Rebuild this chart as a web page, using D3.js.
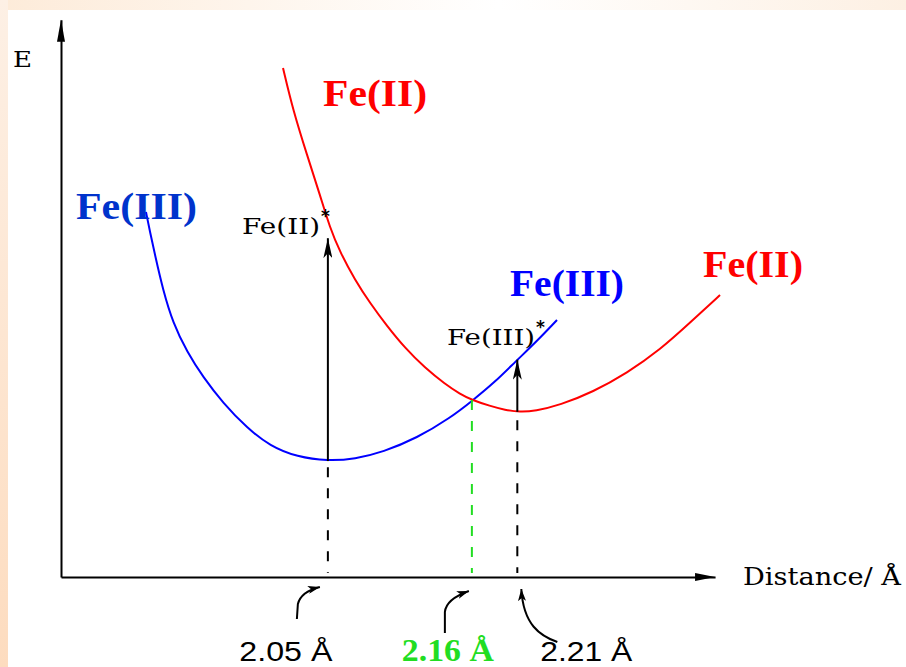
<!DOCTYPE html>
<html>
<head>
<meta charset="utf-8">
<script src="https://cdn.jsdelivr.net/npm/d3@7"></script>
<style>
  body { margin: 0; background: #fff; }
  svg { display: block; }
</style>
</head>
<body>
<div id="chart"></div>
<script>
// schematic potential energy curves, arbitrary units (distance 0-100, energy 0-100)
const fe3Dist = [13.28, 13.91, 14.69, 15.94, 17.5, 19.69, 22.19, 25.31, 29.06, 32.66, 36.88, 41.72, 45.94, 50.31, 55.63, 60.78, 64.22, 67.81, 70.94, 74.38, 77.5];
const fe3Energy = [65.18, 61.61, 57.5, 51.25, 45.36, 40.18, 35.71, 31.07, 26.61, 23.39, 21.43, 20.71, 21.07, 22.32, 24.82, 28.39, 31.43, 34.82, 38.39, 42.14, 45.89];

const fe2Dist = [34.69, 36.25, 38.44, 40.47, 42.03, 43.59, 45.94, 48.28, 50.94, 53.75, 56.88, 60.0, 62.34, 64.22, 67.03, 69.38, 71.72, 74.06, 77.97, 83.13, 88.44, 93.59, 98.75, 102.97];
const fe2Energy = [90.89, 83.39, 75.36, 68.21, 62.32, 58.04, 53.04, 48.93, 44.82, 40.89, 37.32, 34.46, 32.68, 31.61, 30.54, 29.82, 29.46, 29.64, 30.71, 33.04, 36.43, 40.54, 45.89, 50.36];

// bond lengths marked on the distance axis
const bondLabels = ["2.05 Å", "2.16 Å", "2.21 Å"];
const bondPos = [41.7, 64.2, 71.3];

// vertical (Franck-Condon) transitions: from -> to energy
const transDist = [41.7, 71.3];
const transFrom = [20.7, 29.5];
const transTo = [60.5, 38.8];

const width = 906, height = 667;

const svg = d3.select("#chart").append("svg")
    .attr("width", width)
    .attr("height", height);

// peach frame
const defs = svg.append("defs");
const gTop = defs.append("linearGradient").attr("id", "gTop");
gTop.append("stop").attr("offset", "0%").attr("stop-color", "#fdebd9");
gTop.append("stop").attr("offset", "55%").attr("stop-color", "#ffffff");
gTop.append("stop").attr("offset", "100%").attr("stop-color", "#fdf0e3");
const gLeft = defs.append("linearGradient").attr("id", "gLeft")
    .attr("x1", 0).attr("y1", 0).attr("x2", 0).attr("y2", 1);
gLeft.append("stop").attr("offset", "0%").attr("stop-color", "#fdf0e5");
gLeft.append("stop").attr("offset", "100%").attr("stop-color", "#fddcbf");

svg.append("rect").attr("width", width).attr("height", 10).attr("fill", "url(#gTop)");
svg.append("rect").attr("y", 0).attr("width", 8).attr("height", height).attr("fill", "url(#gLeft)");

const marker = (id, len, w) => defs.append("marker")
    .attr("id", id)
    .attr("viewBox", `0 0 ${len} ${w}`)
    .attr("refX", len).attr("refY", w / 2)
    .attr("markerWidth", len).attr("markerHeight", w)
    .attr("markerUnits", "userSpaceOnUse")
    .attr("orient", "auto")
    .append("path")
    .attr("d", `M0,0 L${len},${w / 2} L0,${w} L${len * 0.25},${w / 2} Z`)
    .attr("fill", "#000");
marker("bigHead", 20, 9);
marker("smallHead", 12, 8);

const x = d3.scaleLinear().domain([0, 100]).range([61, 701]);
const y = d3.scaleLinear().domain([0, 100]).range([577, 17]);

// axes (no ticks), with arrows
const xAxisScale = x.copy().domain([0, 102.2]).range([x(0), x(102.2)]);
const yAxisScale = y.copy().domain([0, 99.5]).range([y(0), y(99.5)]);

svg.append("g")
    .attr("transform", `translate(0,${y(0)})`)
    .call(d3.axisBottom(xAxisScale).tickValues([]).tickSizeOuter(0))
    .select(".domain").attr("stroke-width", 2);
svg.append("g")
    .attr("transform", `translate(${x(0)},0)`)
    .call(d3.axisLeft(yAxisScale).tickValues([]).tickSizeOuter(0))
    .select(".domain").attr("stroke-width", 2);

svg.append("path")
    .attr("d", `M${x(0)},${y(99.5)} L${x(0) - 4},${y(99.5) + 22} L${x(0) + 4},${y(99.5) + 22} Z`)
    .attr("fill", "#000");
svg.append("path")
    .attr("d", `M${x(102.2)},${y(0)} L${x(102.2) - 20},${y(0) - 4} L${x(102.2) - 20},${y(0) + 4} Z`)
    .attr("fill", "#000");

svg.append("text")
    .attr("x", 13).attr("y", 67)
    .attr("font-family", "DejaVu Serif")
    .attr("font-size", "22px")
    .attr("textLength", 19)
    .attr("lengthAdjust", "spacingAndGlyphs")
    .text("E");

svg.append("text")
    .attr("x", 743).attr("y", 585)
    .attr("font-family", "DejaVu Serif")
    .attr("font-size", 24)
    .attr("textLength", 158)
    .attr("lengthAdjust", "spacingAndGlyphs")
    .text("Distance/ Å");

// curves
const line = d3.line()
    .x(d => x(d[0]))
    .y(d => y(d[1]))
    .curve(d3.curveBasis);

svg.append("path")
    .datum(d3.zip(fe3Dist, fe3Energy))
    .attr("d", line)
    .attr("fill", "none")
    .attr("stroke", "#0000ff")
    .attr("stroke-width", 2);

svg.append("path")
    .datum(d3.zip(fe2Dist, fe2Energy))
    .attr("d", line)
    .attr("fill", "none")
    .attr("stroke", "#ff0000")
    .attr("stroke-width", 2);

// dashed drop lines to the distance axis
const dashColors = ["#000", "#22dd22", "#000"];
const dashTop = [19.6, 31.6, 28.0];
bondPos.forEach((p, i) => {
    svg.append("line")
        .attr("x1", x(p)).attr("x2", x(p))
        .attr("y1", y(dashTop[i])).attr("y2", y(0) - 4)
        .attr("stroke", dashColors[i])
        .attr("stroke-width", 2)
        .attr("stroke-dasharray", "10,11");
});

// vertical transitions
transDist.forEach((p, i) => {
    svg.append("line")
        .attr("x1", x(p)).attr("x2", x(p))
        .attr("y1", y(transFrom[i])).attr("y2", y(transTo[i]))
        .attr("stroke", "#000")
        .attr("stroke-width", 2)
        .attr("marker-end", "url(#bigHead)");
});

// excited state labels
const starLabel = (txt, lx, ly, len) => {
    svg.append("text")
        .attr("x", lx).attr("y", ly)
        .attr("font-family", "DejaVu Serif")
        .attr("font-size", 23)
        .attr("textLength", len)
        .attr("lengthAdjust", "spacingAndGlyphs")
        .text(txt);
    svg.append("text")
        .attr("x", lx + len + 1).attr("y", ly - 12)
        .attr("font-family", "DejaVu Sans")
        .attr("font-weight", "bold")
        .attr("font-size", 17)
        .text("*");
};
starLabel("Fe(II)", 242, 234, 78);
starLabel("Fe(III)", 447, 345, 88);

// big curve labels
const bigLabel = (txt, lx, ly, color, len) => svg.append("text")
    .attr("x", lx).attr("y", ly)
    .attr("font-family", "Liberation Serif")
    .attr("font-weight", "bold")
    .attr("font-size", 37)
    .attr("fill", color)
    .attr("textLength", len)
    .attr("lengthAdjust", "spacingAndGlyphs")
    .text(txt);
bigLabel("Fe(II)", 323, 106, "#ff0000", 104);
bigLabel("Fe(III)", 76, 219, "#0033cc", 121);
bigLabel("Fe(III)", 510, 296, "#0000ff", 114);
bigLabel("Fe(II)", 703, 277, "#ff0000", 100);

// bond length labels with curved pointers
const labelShift = [-42, -24, 69];
const labelLen = [93, 92, 92];
bondLabels.forEach((t, i) => {
    svg.append("text")
        .attr("x", x(bondPos[i]) + labelShift[i])
        .attr("y", 661)
        .attr("text-anchor", "middle")
        .attr("font-family", i === 1 ? "Liberation Serif" : "Liberation Sans")
        .attr("font-weight", i === 1 ? "bold" : "normal")
        .attr("font-size", i === 1 ? 31 : 27)
        .attr("fill", i === 1 ? "#22dd22" : "#000")
        .attr("textLength", labelLen[i])
        .attr("lengthAdjust", "spacingAndGlyphs")
        .text(t);
});

const px = bondPos.map(p => x(p));
const pointers = [
    `M${px[0] - 31},619 L${px[0] - 30},604 C${px[0] - 28},596 ${px[0] - 20},590 ${px[0] - 8},587`,
    `M${px[1] - 27},633 L${px[1] - 27},612 C${px[1] - 26},602 ${px[1] - 17},596 ${px[1] - 3},591`,
    `M${px[2] + 40},642 C${px[2] + 23},636 ${px[2] + 6},625 ${px[2] + 4},589`
];
pointers.forEach(d => {
    svg.append("path")
        .attr("d", d)
        .attr("fill", "none")
        .attr("stroke", "#000")
        .attr("stroke-width", 2)
        .attr("marker-end", "url(#smallHead)");
});
</script>
</body>
</html>
